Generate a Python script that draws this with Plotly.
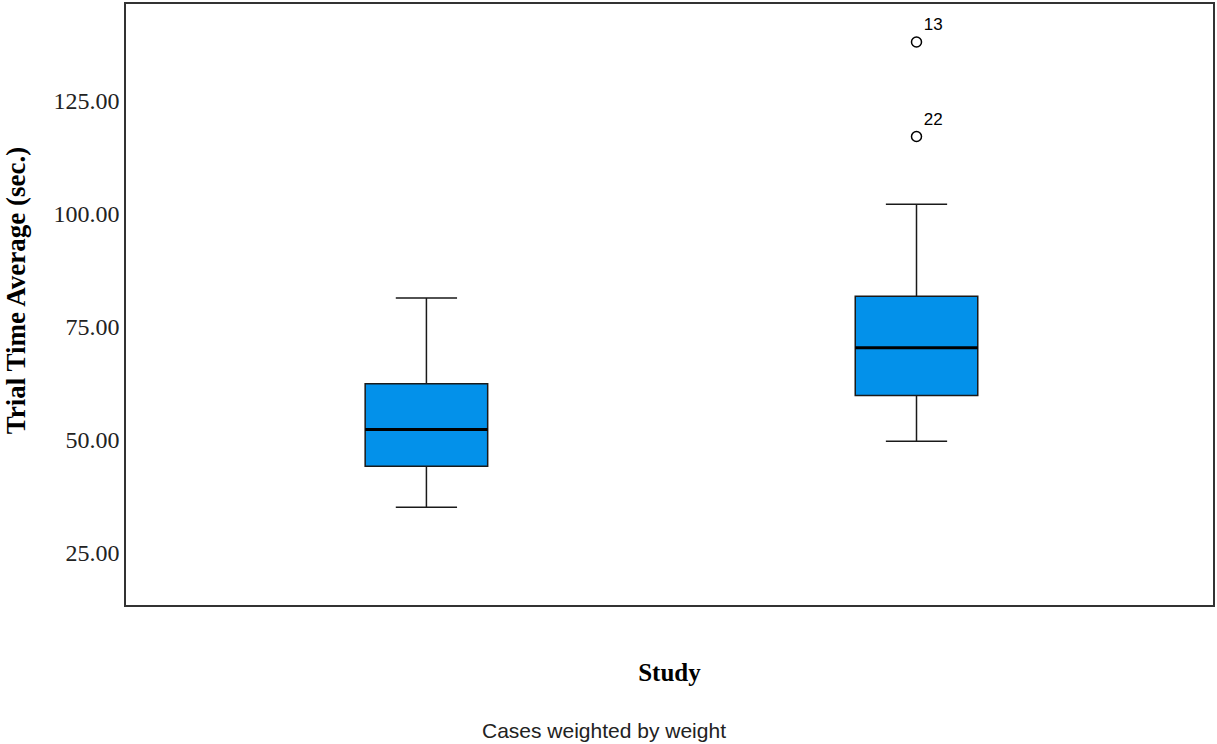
import plotly.graph_objects as go

# Data
groups = [0, 1]
lower_whisker = [35.1, 49.7]
q1_vals = [44.2, 59.8]
median_vals = [52.3, 70.4]
q3_vals = [62.4, 81.8]
upper_whisker = [81.4, 102.1]

outlier_group = [1, 1]
outlier_vals = [138.0, 117.1]
outlier_labels = ["13", "22"]

y_ticks = [25, 50, 75, 100, 125]

BOX_W = 0.25
fill = "#0391EA"
SERIF = "Liberation Serif, Times New Roman, serif"
SANS = "Liberation Sans, Arial, sans-serif"

fig = go.Figure()
for g, lo, q1, med, q3, hi in zip(groups, lower_whisker, q1_vals, median_vals, q3_vals, upper_whisker):
    fig.add_trace(go.Box(
        x=[g], q1=[q1], median=[med], q3=[q3], lowerfence=[lo], upperfence=[hi],
        width=BOX_W, whiskerwidth=0.5, fillcolor=fill,
        line=dict(color="#1a1a1a", width=1.5), boxpoints=False,
        showlegend=False, hoverinfo="skip",
    ))
    # thicker median line
    fig.add_trace(go.Scatter(
        x=[g - BOX_W / 2, g + BOX_W / 2], y=[med, med], mode="lines",
        line=dict(color="black", width=3), showlegend=False, hoverinfo="skip",
    ))

fig.add_trace(go.Scatter(
    x=outlier_group, y=outlier_vals, mode="markers+text", text=outlier_labels,
    textposition="top right",
    textfont=dict(family=SANS, size=17, color="black"),
    marker=dict(symbol="circle-open", size=10, color="black", line=dict(width=1.5)),
    showlegend=False, hoverinfo="skip",
))

fig.update_layout(
    width=1217, height=744,
    margin=dict(l=126, r=2, t=2, b=139),
    plot_bgcolor="white", paper_bgcolor="white",
    showlegend=False,
    xaxis=dict(
        range=[-0.613, 1.605], showticklabels=False, ticks="", showgrid=False, zeroline=False,
        showline=True, linecolor="#333333", linewidth=1.5, mirror=True,
        title=dict(text="<b>Study</b>", font=dict(family=SERIF, size=25, color="black"), standoff=58),
    ),
    yaxis=dict(
        range=[13.5, 146.4], tickvals=y_ticks, tickformat=".2f", showgrid=False, zeroline=False,
        ticks="", showline=True, linecolor="#333333", linewidth=1.5, mirror=True,
        tickfont=dict(family=SERIF, size=24, color="#222222"),
    ),
    annotations=[
        dict(
            text="<b>Trial Time Average (sec.)</b>", textangle=-90,
            xref="paper", yref="paper", x=-(126 - 16) / 1089, y=(605 - 290) / 603,
            xanchor="center", yanchor="middle", showarrow=False,
            font=dict(family=SERIF, size=27, color="black"),
        ),
        dict(
            text="Cases weighted by weight", xref="paper", yref="paper",
            x=(605 - 126) / 1089, y=-(731 - 605) / 603, xanchor="center", yanchor="middle",
            showarrow=False, font=dict(family=SANS, size=21, color="#222222"),
        ),
    ],
)

fig.write_html(
    "out.html",
    config={"displayModeBar": False},
    post_script="document.body.style.margin='0';document.body.style.overflow='hidden';",
)
